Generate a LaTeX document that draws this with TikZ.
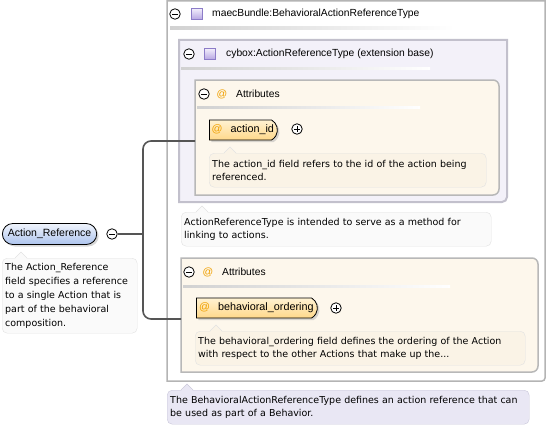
\documentclass[tikz,border=0pt]{standalone}
\usepackage{fontspec}
\setmainfont{Liberation Sans}
\newfontfamily\notefont{DejaVu Sans}
\usetikzlibrary{positioning,shapes.misc,shadows}

\definecolor{wirecol}{HTML}{555555}
\definecolor{boxline}{HTML}{B4B4B4}
\definecolor{typefill}{HTML}{F3F1F9}
\definecolor{typeline}{HTML}{C2C0CC}
\definecolor{attrfill}{HTML}{FDF7EC}
\definecolor{attrline}{HTML}{B8B8B8}
\definecolor{notefill}{HTML}{FAFAFA}
\definecolor{noteline}{HTML}{E2E2E2}
\definecolor{attrnote}{HTML}{FAF3E6}
\definecolor{docfill}{HTML}{E9E7F4}
\definecolor{docline}{HTML}{C9C7D9}
\definecolor{atcol}{HTML}{F0A000}
\definecolor{elemtop}{HTML}{FFF2D2}
\definecolor{elembot}{HTML}{FFD88A}
\definecolor{roottop}{HTML}{F0F4FC}
\definecolor{rootbot}{HTML}{ADC4EE}
\definecolor{sqtop}{HTML}{F2EEFC}
\definecolor{sqbot}{HTML}{B6A6E2}
\definecolor{sqline}{HTML}{8C7CC8}

\tikzset{
  toggle/.style={circle, draw=black, line width=0.8pt, inner sep=0pt, minimum size=10.5pt, fill=white},
  minus/.style={toggle, path picture={\draw[line width=0.8pt] (path picture bounding box.center) ++(-2.6pt,0) -- ++(5.2pt,0);}},
  plus/.style={toggle, path picture={\draw[line width=0.8pt] (path picture bounding box.center) ++(-2.6pt,0) -- ++(5.2pt,0)
      (path picture bounding box.center) ++(0,-2.6pt) -- ++(0,5.2pt);}},
  typesq/.style={draw=sqline, line width=0.7pt, top color=sqtop, bottom color=sqbot, minimum size=11pt, inner sep=0pt},
  heading/.style={anchor=west, inner sep=0pt, font=\fontsize{10.3}{12}\selectfont},
  atsign/.style={anchor=center, inner sep=0pt, text=atcol, font=\fontsize{10.5}{12}\selectfont},
  elem/.style={rounded rectangle, rounded rectangle left arc=none, rounded rectangle arc length=120,
      draw=black, line width=0.8pt, top color=elemtop, bottom color=elembot, minimum height=20pt,
      inner xsep=5pt, anchor=west, font=\fontsize{10.8}{12}\selectfont,
      drop shadow={shadow xshift=2pt, shadow yshift=-2pt, fill=black!30}},
  note/.style={draw=noteline, fill=notefill, rounded corners=5pt, align=left, anchor=north west,
      inner xsep=3pt, inner ysep=2pt, font=\notefont\fontsize{9.5}{13}\selectfont},
  wire/.style={draw=wirecol, line width=1.6pt},
  sep/.style={left color=black!18, right color=white, draw=none}
}

\begin{document}
\begin{tikzpicture}[x=1pt,y=-1pt]
  \useasboundingbox (0,0) rectangle (548,428);
  % outer complex type
  \filldraw[fill=white, draw=boxline, line width=1.5pt] (545,200) [rounded corners=3pt] -- (545,381) -- (350,381)
    [sharp corners] -- (167,381) -- (167,1) -- (545,1) -- cycle;
  \node[minus] (hdrtog) at (175,14) {};
  \node[typesq] (hdrsq) at (197,14) {};
  \node[heading] (hdr) at (212,14) {maecBundle:BehavioralActionReferenceType};
  \shade[sep] (170,27) rectangle (455,29.5);

  % extension base
  \filldraw[fill=typefill, draw=typeline, line width=2pt] (507,120) [rounded corners=5pt] -- (507,202) -- (350,202)
    [sharp corners] -- (179,202) -- (179,40) -- (507,40) -- cycle;
  \node[minus] (basetog) at (189,54) {};
  \node[typesq] (basesq) at (210,54) {};
  \node[heading] (base) at (226,54) {cybox:ActionReferenceType (extension base)};
  \shade[sep] (181,67) rectangle (430,69.5);

  % attributes of the base
  \filldraw[fill=attrfill, draw=attrline, line width=1.5pt] (350,80) [rounded corners=6pt] -- (499,80) -- (499,195) -- (350,195)
    [sharp corners] -- (195,195) -- (195,80) -- cycle;
  \node[minus] (attatog) at (204,94) {};
  \node[atsign] (attaat) at (222,94) {@};
  \node[heading] (atta) at (236,94) {Attributes};
  \shade[sep] (197,106) rectangle (420,108.5);
  \node[elem, minimum width=78pt] (actid) at (209,130) {{\color{atcol}@}\hspace{8pt}action\_id};
  \node[plus] (actidtog) at (297,129) {};
  \node[note, fill=attrnote, text width=271pt, minimum height=34pt] (actidnote) at (209,153)
    {The action\_id field refers to the id of the action being\\referenced.};
  \fill[attrnote] (224,154) -- (230,147) -- (236,154) -- cycle;
  \draw[noteline] (224,153) -- (230,147) -- (236,153);

  \node[note, text width=304pt, minimum height=34pt] (basenote) at (181,212)
    {ActionReferenceType is intended to serve as a method for\\linking to actions.};
  \fill[notefill] (196,213) -- (202,206) -- (208,213) -- cycle;
  \draw[noteline] (196,212) -- (202,206) -- (208,212);

  % own attributes
  \filldraw[fill=attrfill, draw=attrline, line width=1.5pt] (400,258) [rounded corners=6pt] -- (538,258) -- (538,372) -- (400,372)
    [sharp corners] -- (181,372) -- (181,258) -- cycle;
  \node[minus] (attbtog) at (189,272) {};
  \node[atsign] (attbat) at (208,272) {@};
  \node[heading] (attb) at (222,272) {Attributes};
  \shade[sep] (183,285) rectangle (450,287.5);
  \node[elem, minimum width=131pt] (order) at (196,308) {{\color{atcol}@}\hspace{8pt}behavioral\_ordering};
  \node[plus] (ordertog) at (336,308) {};
  \node[note, fill=attrnote, text width=324pt, minimum height=34pt] (ordernote) at (195,331)
    {The behavioral\_ordering field defines the ordering of the Action\\with respect to the other Actions that make up the...};
  \fill[attrnote] (210,332) -- (216,325) -- (222,332) -- cycle;
  \draw[noteline] (210,331) -- (216,325) -- (222,331);

  % type documentation
  \node[note, draw=docline, fill=docfill, text width=356pt, minimum height=34pt] (typenote) at (167,390)
    {The BehavioralActionReferenceType defines an action reference that can\\be used as part of a Behavior.};
  \fill[docfill] (181,391) -- (187,384) -- (193,391) -- cycle;
  \draw[docline] (181,390) -- (187,384) -- (193,390);

  % the element
  \node[rounded rectangle, draw=black, line width=0.8pt, top color=roottop, bottom color=rootbot,
    minimum width=101pt, minimum height=21pt, anchor=west, font=\fontsize{10.5}{12}\selectfont,
    drop shadow={shadow xshift=2pt, shadow yshift=-2pt, fill=black!30}] (root) at (2,234) {Action\_Reference};
  \node[minus] (roottog) at (112,234) {};
  \node[note, text width=129pt, minimum height=75pt, font=\notefont\fontsize{9.5}{14}\selectfont] (rootnote) at (2,258)
    {The Action\_Reference\\field specifies a reference\\to a single Action that is\\part of the behavioral\\composition.};
  \fill[notefill] (15,259) -- (21,252) -- (27,259) -- cycle;
  \draw[noteline] (15,258) -- (21,252) -- (27,258);

  % connector
  \coordinate (fork) at (143,234);
  \coordinate (upper) at (195,141);
  \coordinate (lower) at (181,319);
  \draw[wire] (roottog.east) -- (fork);
  \draw[wire, rounded corners=8pt] (upper) -| (fork) |- (lower);
\end{tikzpicture}
\end{document}
